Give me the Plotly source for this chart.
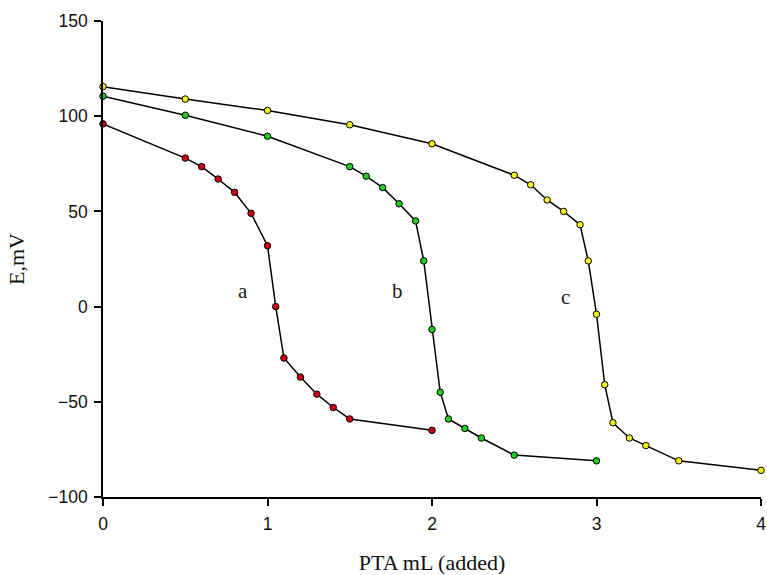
import plotly.graph_objects as go

# Curve a (red)
xa = [0, 0.5, 0.6, 0.7, 0.8, 0.9, 1.0, 1.05, 1.1, 1.2, 1.3, 1.4, 1.5, 2.0]
ya = [96, 78, 73.5, 67, 60, 49, 32, 0, -27, -37, -46, -53, -59, -65]
# Curve b (green)
xb = [0, 0.5, 1.0, 1.5, 1.6, 1.7, 1.8, 1.9, 1.95, 2.0, 2.05, 2.1, 2.2, 2.3, 2.5, 3.0]
yb = [110.5, 100.5, 89.5, 73.5, 68.5, 62.5, 54, 45, 24, -12, -45, -59, -64, -69, -78, -81]
# Curve c (yellow)
xc = [0, 0.5, 1.0, 1.5, 2.0, 2.5, 2.6, 2.7, 2.8, 2.9, 2.95, 3.0, 3.05, 3.1, 3.2, 3.3, 3.5, 4.0]
yc = [115.5, 109, 103, 95.5, 85.5, 69, 64, 56, 50, 43, 24, -4, -41, -61, -69, -73, -81, -86]

labels = ["a", "b", "c"]
label_x = [0.85, 1.79, 2.81]
label_y = [8, 8, 5]

series = [(xa, ya, "#cc0011"), (xb, yb, "#22cc22"), (xc, yc, "#f2f21a")]

fig = go.Figure()
for x, y, col in series:
    fig.add_trace(go.Scatter(
        x=x, y=y, mode="lines+markers",
        line=dict(color="black", width=1.5),
        marker=dict(size=6.5, color=col, line=dict(color="black", width=1)),
        cliponaxis=False, showlegend=False))

for t, lx, ly in zip(labels, label_x, label_y):
    fig.add_annotation(x=lx, y=ly, text=t, showarrow=False,
                       font=dict(family="Liberation Serif", size=21, color="#222"))

fig.update_layout(
    width=767, height=575,
    margin=dict(l=103, r=6, t=21, b=78),
    plot_bgcolor="white", paper_bgcolor="white",
    xaxis=dict(range=[0, 4], tickvals=[0, 1, 2, 3, 4], showgrid=False, zeroline=False,
               automargin=False,
               showline=True, linecolor="black", linewidth=1.5,
               ticks="outside", ticklen=7, tickcolor="black", tickwidth=1.5,
               ticklabelstandoff=3,
               tickfont=dict(family="Liberation Sans", size=17.5, color="#111"),
               title=dict(text="PTA mL (added)", standoff=26,
                          font=dict(family="Liberation Serif", size=22, color="#111"))),
    yaxis=dict(range=[-100, 150], tickvals=[-100, -50, 0, 50, 100, 150], showgrid=False, zeroline=False,
               automargin=False,
               showline=True, linecolor="black", linewidth=1.5,
               ticks="outside", ticklen=7, tickcolor="black", tickwidth=1.5,
               ticklabelstandoff=3,
               tickfont=dict(family="Liberation Sans", size=17.5, color="#111"),
               title=dict(text="E,mV", standoff=18,
                          font=dict(family="Liberation Serif", size=22, color="#111"))),
)

fig.write_html("out.html")
